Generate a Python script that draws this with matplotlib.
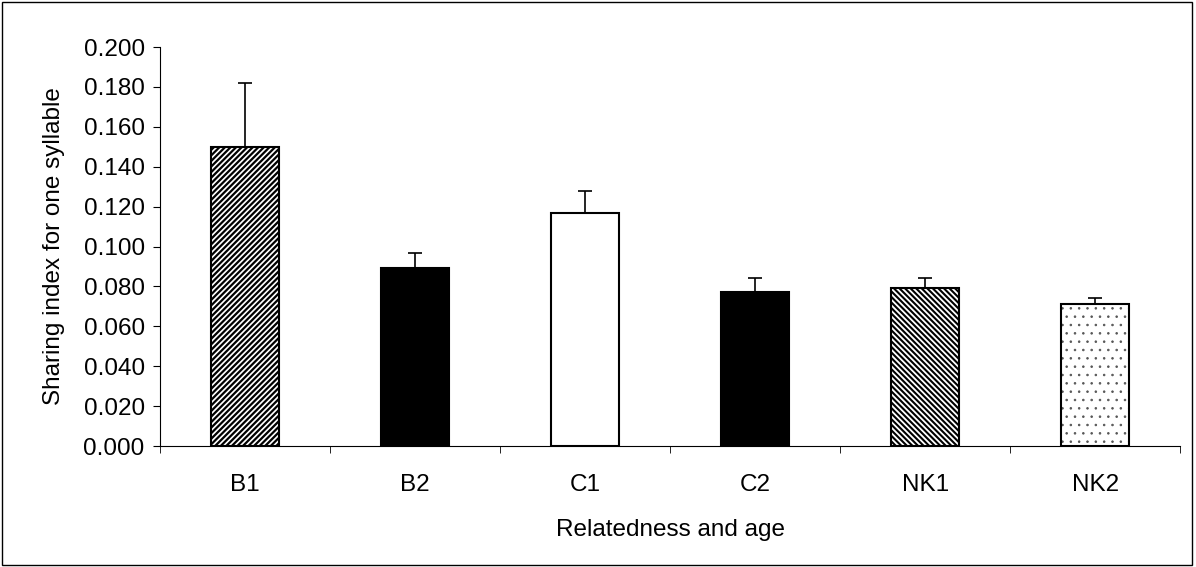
import matplotlib.pyplot as plt
from matplotlib.patches import Rectangle

plt.rcParams['font.family'] = ['Liberation Sans', 'DejaVu Sans']
plt.rcParams['hatch.linewidth'] = 1.3

groups = ['B1', 'B2', 'C1', 'C2', 'NK1', 'NK2']
means = [0.150, 0.089, 0.117, 0.077, 0.079, 0.071]
errors = [0.032, 0.008, 0.011, 0.007, 0.005, 0.003]
fills = ['white', 'black', 'white', 'black', 'white', 'white']
hatches = ['//////', '', '', '', '\\\\\\\\\\\\', '..']
hatch_colors = ['black', 'black', 'black', 'black', 'black', '#555555']
hatch_widths = [1.6, 1.3, 1.3, 1.3, 1.5, 0.6]

fig = plt.figure(figsize=(11.96, 5.67), dpi=100)
ax = fig.add_axes([0.1338, 0.2134, 0.8532, 0.7036])

x = list(range(len(groups)))
for i in x:
    # fill + hatch first, then the outline on top
    with plt.rc_context({'hatch.linewidth': hatch_widths[i]}):
        ax.bar(i, means[i], width=0.4, color=fills[i], edgecolor=hatch_colors[i],
               linewidth=0, hatch=hatches[i], zorder=2)
    ax.bar(i, means[i], width=0.4, fill=False, edgecolor='black',
           linewidth=1.5, zorder=2.5)
ax.errorbar(x, means, yerr=[[0]*len(x), errors], fmt='none', ecolor='black',
            elinewidth=1.2, capsize=5, capthick=1.2, zorder=3)

ax.set_xlim(-0.5, len(groups) - 0.5)
ax.set_ylim(0, 0.2)
ax.set_yticks([i * 0.02 for i in range(11)])
ax.set_yticklabels(['%.3f' % (i * 0.02) for i in range(11)])
ax.set_xticks(x)
ax.set_xticklabels(groups)
ax.set_xticks([i - 0.5 for i in range(len(groups) + 1)], minor=True)
ax.tick_params(axis='x', which='major', length=0, pad=20, labelsize=17.5)
ax.tick_params(axis='x', which='minor', length=5, direction='out')
ax.tick_params(axis='y', length=5, direction='out', labelsize=17.5, pad=6)
for s in ['top', 'right']:
    ax.spines[s].set_visible(False)
for s in ['left', 'bottom']:
    ax.spines[s].set_linewidth(0.8)
ax.set_xlabel('Relatedness and age', fontsize=17.5, labelpad=17)
ax.set_ylabel('Sharing index for one syllable', fontsize=17.5, labelpad=13)

fig.patches.append(Rectangle((0.002, 0.004), 0.995, 0.992, transform=fig.transFigure,
                             fill=False, edgecolor='black', linewidth=1))

fig.savefig('out.png', dpi=100)
